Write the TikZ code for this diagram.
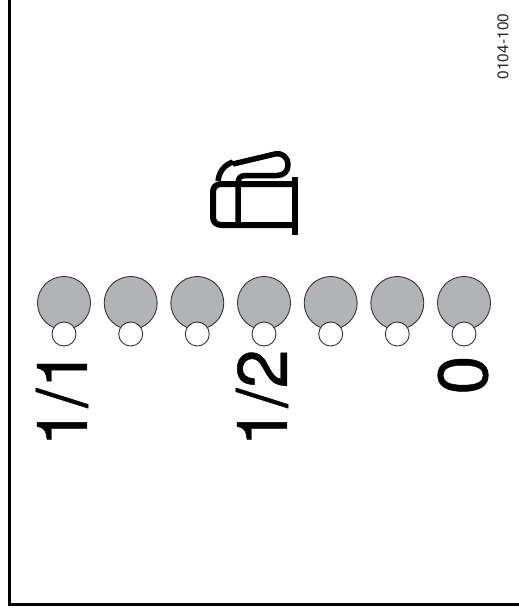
\documentclass[tikz,border=0pt]{standalone}
\usepackage{fontspec}
\setmainfont{TeX Gyre Heros}
\newfontfamily\heavyfont[FakeBold=0.6]{TeX Gyre Heros}
\definecolor{lampgrey}{HTML}{B1B3B6}
\definecolor{lineink}{HTML}{333333}
\tikzset{
  biglamp/.style={circle,draw=lineink,line width=0.9pt,fill=lampgrey,minimum size=53pt,inner sep=0pt},
  smalllamp/.style={circle,draw=lineink,line width=0.9pt,fill=white,minimum size=24pt,inner sep=0pt},
  biglabel/.style={rotate=90,inner sep=0pt,font=\heavyfont\fontsize{70}{70}\selectfont},
  codelabel/.style={rotate=90,inner sep=0pt,font=\fontsize{15.5}{16}\selectfont,text=black!85},
  iconline/.style={line width=6pt,line join=round}
}
\begin{document}
\begin{tikzpicture}[x=1pt,y=-1pt]
\useasboundingbox (0,0) rectangle (519,614);
\fill[white] (0,0) rectangle (519,614);
\draw[line width=3pt] (9,-3) -- (9,604.5) -- (522,604.5);
\foreach \i/\x in {1/64,2/130.7,3/197.3,4/264,5/330.7,6/397.3,7/464}{
  \node[biglamp] (lamp\i) at (\x,303) {};
  \node[smalllamp] (led\i) at (\x,334) {};
}
\node[biglabel,anchor=center] (t11) at (62,398) {1/1};
\node[biglabel,anchor=center] (t12) at (262,398) {1/2};
\node[biglabel,anchor=center] (t0) at (463,375) {0};
\node[codelabel] (code) at (503,46.5) {0104-100};
% fuel can icon
\draw[iconline] (295,184) -- (222,184) .. controls (216,184) and (213,187) .. (213,192) -- (213,217) .. controls (213,222) and (216,225) .. (222,225) -- (295,225);
\draw[line width=6pt] (295,177) -- (295,234.5);
\draw[iconline,line width=5.5pt] (238,225) -- (238,184) .. controls (238,178) and (240,175.5) .. (246,175.5) -- (277,175.5) .. controls (284,175.5) and (288,171) .. (288,165) .. controls (288,157) and (282,152.5) .. (275,154) -- (233,164);
\draw[iconline,line width=5.5pt] (233,162) .. controls (224,165) and (219,172) .. (218,181);
\end{tikzpicture}
\end{document}
